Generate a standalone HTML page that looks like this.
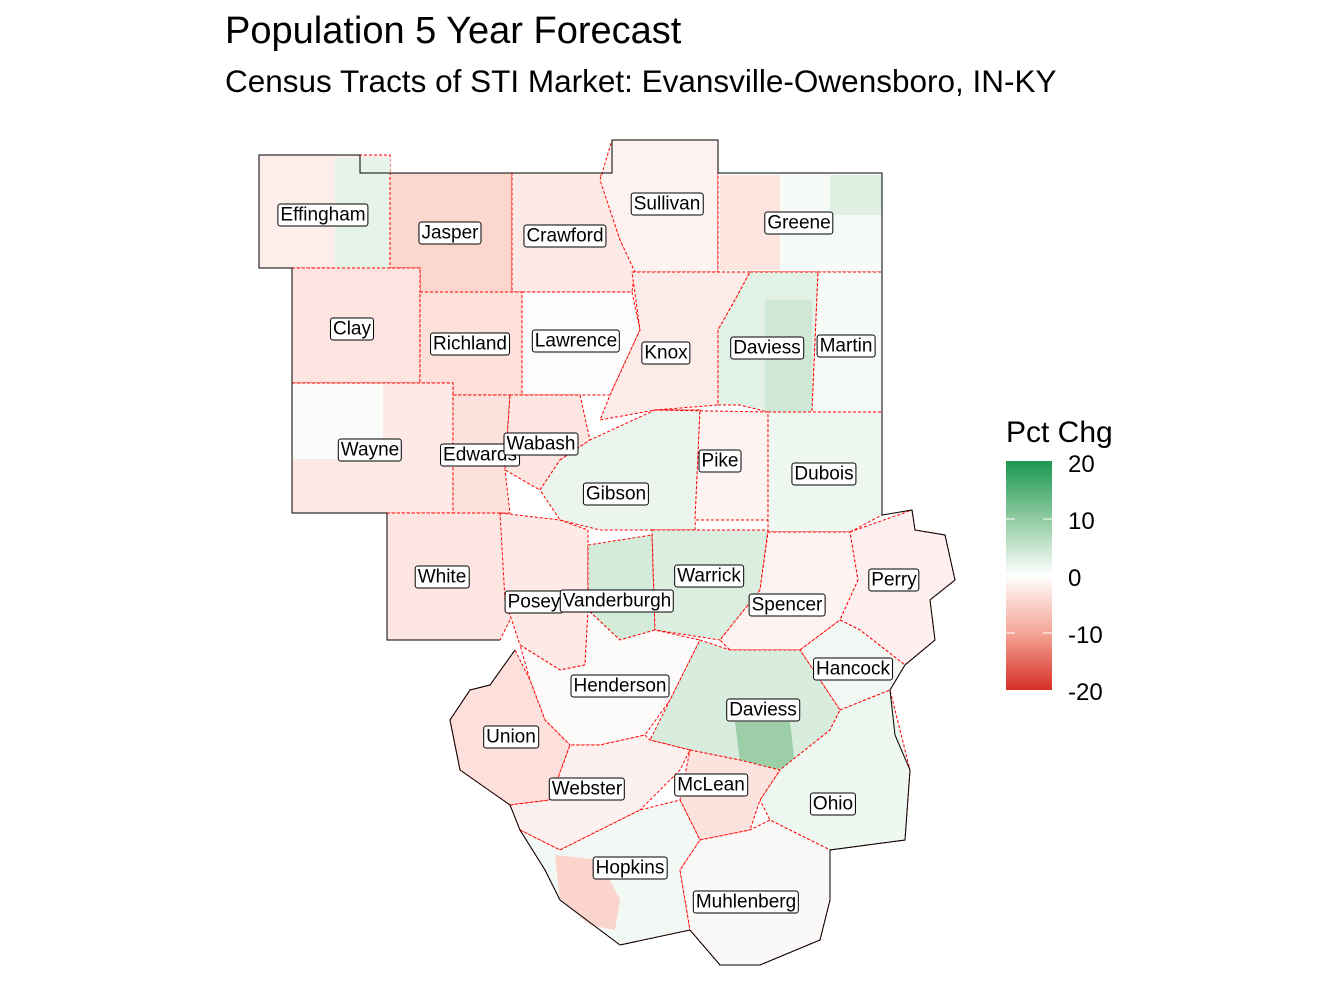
<!DOCTYPE html>
<html><head><meta charset="utf-8"><style>
body{margin:0;width:1344px;height:1008px;background:#fff;position:relative;overflow:hidden;font-family:"Liberation Sans",sans-serif}
.t{position:absolute;left:225px;white-space:nowrap;color:#000}
.l{position:absolute;transform:translate(-50%,-50%);background:#fff;border:1px solid #000;border-radius:3px;padding:0 2px;font-size:19px;line-height:21px;white-space:nowrap}
</style></head><body>
<div class="t" style="top:10px;font-size:38px">Population 5 Year Forecast</div>
<div class="t" style="top:63px;font-size:31.5px">Census Tracts of STI Market: Evansville-Owensboro, IN-KY</div>
<svg width="1344" height="1008" style="position:absolute;left:0;top:0">
<defs><linearGradient id="g" x1="0" y1="0" x2="0" y2="1">
<stop offset="0" stop-color="#1a9850"/><stop offset="0.25" stop-color="#8fcaa0"/><stop offset="0.5" stop-color="#ffffff"/><stop offset="0.75" stop-color="#f4a596"/><stop offset="1" stop-color="#d73027"/></linearGradient></defs>
<g stroke="#f00" stroke-width="1" stroke-dasharray="3,2">
<polygon fill="#fdeeec" points="259,155 390,155 390,268 259,268"/>
<rect x="335" y="158" width="55" height="110" fill="#e6f3e9" stroke="none"/>
<polygon fill="#fbd7ce" points="390,173 512,173 512,292 420,292 420,268 390,268"/>
<polygon fill="#fde9e6" points="512,173 600,173 620,240 635,270 632,292 512,292"/>
<polygon fill="#fef2f0" points="612,140 718,140 718,272 635,272 620,240 600,180"/>
<polygon fill="#f7fbf8" points="718,173 882,173 882,272 718,272"/>
<rect x="720" y="175" width="60" height="95" fill="#fde4df" stroke="none"/>
<rect x="830" y="175" width="52" height="40" fill="#dff0e3" stroke="none"/>
<polygon fill="#fde4e0" points="292,268 420,268 420,383 292,383"/>
<polygon fill="#fde0da" points="420,292 522,292 522,395 453,395 453,383 420,383"/>
<polygon fill="#fbfcfb" points="522,292 632,292 640,330 610,395 522,395"/>
<polygon fill="#fdebe8" points="632,272 750,272 735,300 718,330 718,405 655,410 600,420 610,395 640,330"/>
<polygon fill="#e3f2e6" points="750,272 818,272 812,412 768,412 740,405 718,405 718,330 735,300"/>
<rect x="765" y="300" width="47" height="115" fill="#cfe8d5" stroke="none"/>
<polygon fill="#f7fbf8" points="818,272 882,272 882,412 812,412"/>
<polygon fill="#fdeae6" points="292,383 453,383 453,513 292,513"/>
<rect x="293" y="384" width="90" height="75" fill="#fafcfa" stroke="none"/>
<polygon fill="#fde2dc" points="453,395 510,395 505,470 510,513 453,513"/>
<polygon fill="#fde6e2" points="510,395 580,395 590,440 560,460 540,490 505,470"/>
<polygon fill="#ebf5ee" points="560,460 590,440 655,410 700,410 695,530 600,530 560,520 540,490"/>
<polygon fill="#fdf3f1" points="655,410 768,412 768,520 695,520 700,410"/>
<polygon fill="#eef7f0" points="768,412 882,412 882,515 850,532 768,532"/>
<polygon fill="#fde6e1" points="387,513 500,513 505,550 520,600 500,640 387,640"/>
<polygon fill="#fde9e5" points="500,513 560,520 588,530 588,610 585,665 560,670 520,645 505,600"/>
<polygon fill="#d5ebda" points="588,545 652,535 655,630 620,640 588,610"/>
<polygon fill="#dceedf" points="652,530 768,530 760,590 720,640 655,630"/>
<polygon fill="#fdf3f1" points="768,532 850,532 858,580 840,620 800,650 730,650 720,640 760,590"/>
<polygon fill="#fdf0ee" points="850,532 912,510 915,530 945,535 955,580 930,600 935,640 905,665 860,630 840,620 858,580"/>
<polygon fill="#f2f8f3" points="800,650 840,620 860,630 905,665 890,690 840,710"/>
<polygon fill="#fdfafa" points="520,645 560,670 585,665 588,610 620,640 655,630 700,640 670,700 645,735 600,745 570,745 545,720 530,680"/>
<polygon fill="#fde0db" points="450,720 470,690 490,685 515,650 530,680 545,720 570,745 550,800 510,805 460,770"/>
<polygon fill="#d9edde" points="700,640 730,650 800,650 840,710 830,730 780,770 740,760 690,750 650,740 670,700"/>
<polygon fill="#9ccfa8" stroke="none" points="735,722 790,722 795,765 775,770 740,762"/>
<polygon fill="#eef7f0" points="840,710 890,690 910,770 905,840 830,850 770,820 760,800 780,770 830,730"/>
<polygon fill="#fdf1ef" points="510,805 550,800 570,745 600,745 645,735 650,740 690,750 680,770 650,800 640,810 560,850 520,830"/>
<polygon fill="#fde3de" points="690,750 740,760 780,770 760,800 750,830 700,840 680,800"/>
<polygon fill="#f2f8f3" points="520,830 560,850 640,810 680,800 700,840 680,870 690,930 620,945 560,900 545,870"/>
<polygon fill="#fbd4cb" stroke="none" points="555,855 600,860 620,900 615,930 590,925 560,900"/>
<polygon fill="#fbf9f8" points="700,840 750,830 770,820 830,850 830,900 820,940 760,965 720,965 690,930 680,870"/>
</g>
<polyline fill="none" stroke="#000" stroke-width="1" points="515,650 490,685 470,690 450,720 460,770 510,805 520,830 545,870 560,900 620,945 690,930 720,965 760,965 820,940 830,900 830,850 905,840 910,770 895,735 890,690 905,665 935,640 930,600 955,580 945,535 915,530 912,510 882,515 882,173 718,173 718,140 612,140 612,173 390,173 360,173 360,155 259,155 259,268 292,268 292,513 387,513 387,640 500,640"/>
<rect x="1006" y="461" width="46" height="229" fill="url(#g)"/>
<g stroke="#fff" stroke-width="1"><line x1="1006" y1="519" x2="1015" y2="519"/><line x1="1043" y1="519" x2="1052" y2="519"/><line x1="1006" y1="633" x2="1015" y2="633"/><line x1="1043" y1="633" x2="1052" y2="633"/></g>
<g font-size="24" font-family="Liberation Sans,sans-serif">
<text x="1006" y="442" font-size="30">Pct Chg</text>
<text x="1068" y="472">20</text><text x="1068" y="529">10</text><text x="1068" y="586">0</text><text x="1068" y="643">-10</text><text x="1068" y="700">-20</text>
</g>
</svg>
<div class="l" style="left:323px;top:215px">Effingham</div>
<div class="l" style="left:450px;top:233px">Jasper</div>
<div class="l" style="left:565px;top:236px">Crawford</div>
<div class="l" style="left:667px;top:204px">Sullivan</div>
<div class="l" style="left:799px;top:223px">Greene</div>
<div class="l" style="left:352px;top:329px">Clay</div>
<div class="l" style="left:470px;top:344px">Richland</div>
<div class="l" style="left:576px;top:341px">Lawrence</div>
<div class="l" style="left:666px;top:353px">Knox</div>
<div class="l" style="left:767px;top:348px">Daviess</div>
<div class="l" style="left:846px;top:346px">Martin</div>
<div class="l" style="left:370px;top:450px">Wayne</div>
<div class="l" style="left:480px;top:455px">Edwards</div>
<div class="l" style="left:541px;top:444px">Wabash</div>
<div class="l" style="left:720px;top:461px">Pike</div>
<div class="l" style="left:824px;top:474px">Dubois</div>
<div class="l" style="left:616px;top:494px">Gibson</div>
<div class="l" style="left:442px;top:577px">White</div>
<div class="l" style="left:709px;top:576px">Warrick</div>
<div class="l" style="left:894px;top:580px">Perry</div>
<div class="l" style="left:534px;top:602px">Posey</div>
<div class="l" style="left:617px;top:601px">Vanderburgh</div>
<div class="l" style="left:787px;top:605px">Spencer</div>
<div class="l" style="left:853px;top:669px">Hancock</div>
<div class="l" style="left:620px;top:686px">Henderson</div>
<div class="l" style="left:763px;top:710px">Daviess</div>
<div class="l" style="left:511px;top:737px">Union</div>
<div class="l" style="left:711px;top:785px">McLean</div>
<div class="l" style="left:587px;top:789px">Webster</div>
<div class="l" style="left:833px;top:804px">Ohio</div>
<div class="l" style="left:630px;top:868px">Hopkins</div>
<div class="l" style="left:746px;top:902px">Muhlenberg</div>
</body></html>
